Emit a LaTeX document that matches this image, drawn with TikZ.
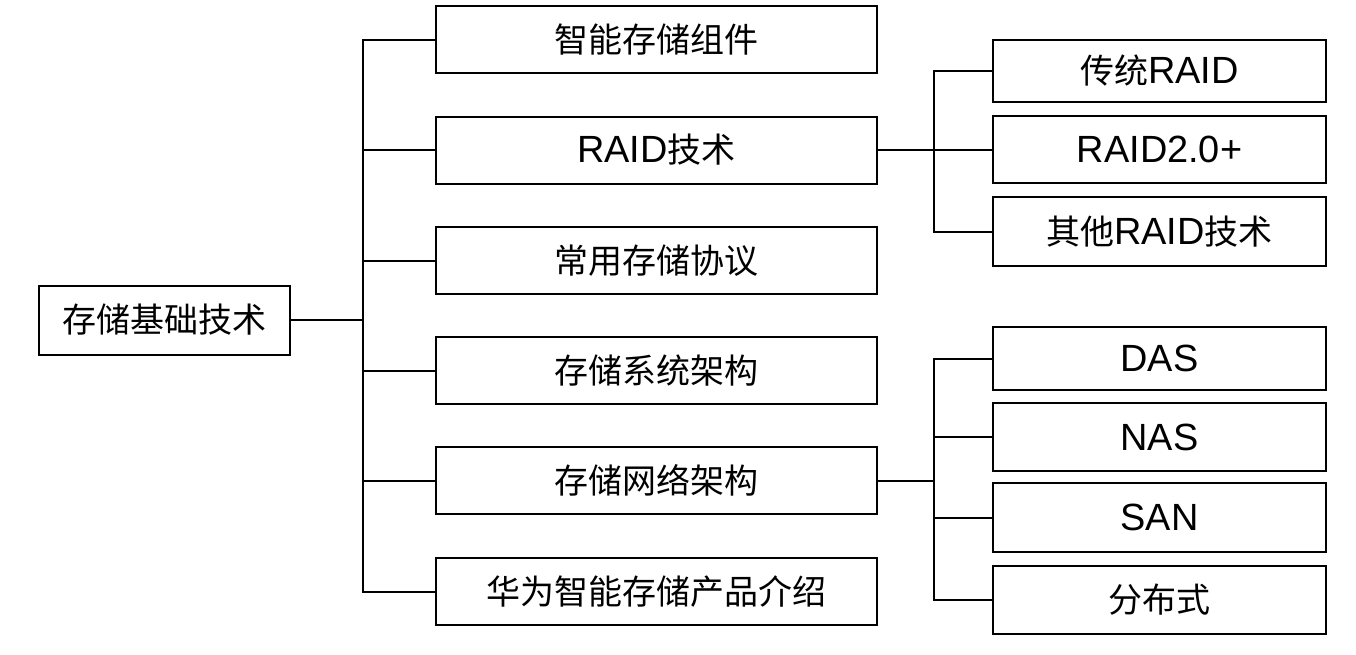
\documentclass[tikz,border=0pt]{standalone}
\usepackage{fontspec}
\setmainfont{Liberation Sans}[Scale=1.115]
\newfontfamily\cjk{Noto Sans CJK SC}
\begin{document}
\begin{tikzpicture}[x=1pt,y=-1pt,
  box/.style={draw=black,line width=2pt,rectangle,inner sep=0pt,minimum width=#1,font=\fontsize{34}{40}\selectfont,text=black},
  link/.style={draw=black,line width=2pt}]
\useasboundingbox (0,0) rectangle (1356,654);
% root
\node[box=251pt,minimum height=69pt] (root) at (164.5,320) {\cjk 存储基础技术};
% middle column
\node[box=441pt,minimum height=67pt] (m1) at (656.5,39.5) {\cjk 智能存储组件};
\node[box=441pt,minimum height=67pt] (m2) at (656.5,150) {RAID{\cjk 技术}};
\node[box=441pt,minimum height=67pt] (m3) at (656.5,260.5) {\cjk 常用存储协议};
\node[box=441pt,minimum height=67pt] (m4) at (656.5,370.5) {\cjk 存储系统架构};
\node[box=441pt,minimum height=67pt] (m5) at (656.5,480.5) {\cjk 存储网络架构};
\node[box=441pt,minimum height=67pt] (m6) at (656.5,591.5) {\cjk 华为智能存储产品介绍};
% right column
\node[box=333pt,minimum height=62pt] (r1) at (1159.5,71) {{\cjk 传统}RAID};
\node[box=333pt,minimum height=67pt] (r2) at (1159.5,149.5) {RAID2.0+};
\node[box=333pt,minimum height=69pt] (r3) at (1159.5,231.5) {{\cjk 其他}RAID{\cjk 技术}};
\node[box=333pt,minimum height=63pt] (n1) at (1159.5,358.5) {DAS};
\node[box=333pt,minimum height=68pt] (n2) at (1159.5,437) {NAS};
\node[box=333pt,minimum height=69pt] (n3) at (1159.5,517.5) {SAN};
\node[box=333pt,minimum height=68pt] (n4) at (1159.5,600) {\cjk 分布式};
% junction points
\coordinate (t) at (363,320);
\coordinate (tr) at (934,150);
\coordinate (tn) at (934,480.5);
% connectors
\draw[link] (root.east) -- (t);
\foreach \m in {m1,m2,m3,m4,m5,m6} \draw[link] (t) |- (\m.west);
\draw[link] (m2.east) -- (tr);
\foreach \m in {r1,r2,r3} \draw[link] (tr) |- (\m.west);
\draw[link] (m5.east) -- (tn);
\foreach \m in {n1,n2,n3,n4} \draw[link] (tn) |- (\m.west);
\end{tikzpicture}
\end{document}
